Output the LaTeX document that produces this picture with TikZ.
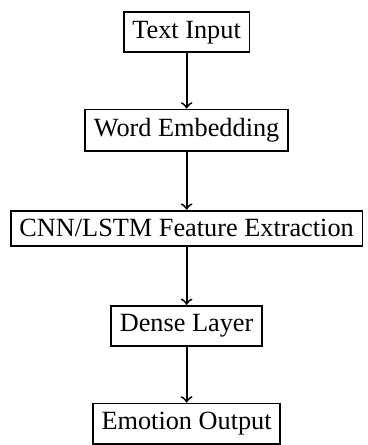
\documentclass[tikz,border=0pt]{standalone}
\usepackage{fontspec}
\setmainfont{Liberation Serif}
\begin{document}
\begin{tikzpicture}[x=1pt,y=1pt,
  stage/.style={draw, line width=0.7pt, inner sep=3.3pt, font=\fontsize{10}{12}\selectfont},
  flow/.style={->, line width=0.7pt}]
  \useasboundingbox (0,0) rectangle (140,-169.3);
  \node[stage] (input) at (71,-12.3) {Text Input};
  \node[stage] (embed) at (71,-49.5) {Word Embedding};
  \node[stage] (feat)  at (71,-86.8) {CNN/LSTM Feature Extraction};
  \node[stage] (dense) at (71,-124.0) {Dense Layer};
  \node[stage] (out)   at (71,-161.2) {Emotion Output};
  \draw[flow] (input) -- (embed);
  \draw[flow] (embed) -- (feat);
  \draw[flow] (feat) -- (dense);
  \draw[flow] (dense) -- (out);
\end{tikzpicture}
\end{document}
